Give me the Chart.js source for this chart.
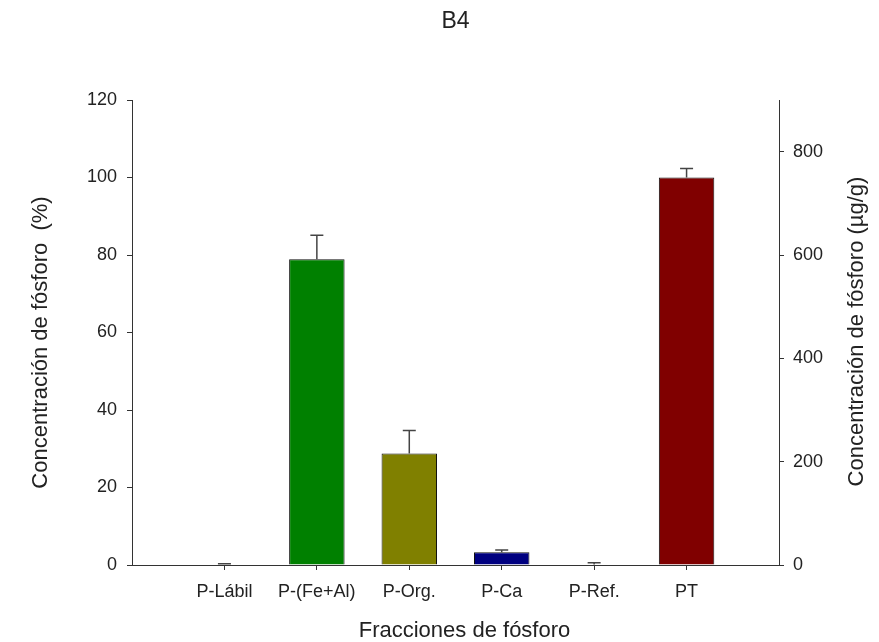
<!DOCTYPE html>
<html>
<head>
<meta charset="utf-8">
<script src="https://cdn.jsdelivr.net/npm/chart.js@4/dist/chart.umd.min.js"></script>
<style>
  html, body { margin: 0; padding: 0; background: #fff; }
</style>
</head>
<body>
<canvas id="b4Chart" width="879" height="642"></canvas>
<script>
// Fracciones de fósforo, muestra B4
const fracciones = ["P-Lábil", "P-(Fe+Al)", "P-Org.", "P-Ca", "P-Ref.", "PT"];
const porcentaje = [0.1, 78.9, 28.8, 3.3, 0.1, 100];
const errorSup = [0.2, 6.2, 5.9, 0.6, 0.5, 2.3];
const colores = ["#808080", "#008000", "#808000", "#000080", "#808080", "#800000"];

// ejes: % a la izquierda, µg/g a la derecha (100 % = 750 µg/g)
const ticksPct = [0, 20, 40, 60, 80, 100, 120];
const ticksUg = [0, 200, 400, 600, 800];
const ptUg = 750;

const fuente = "'Liberation Sans', Arial, sans-serif";
const tinta = "#222";
const lineaEje = "#333";

// barras de error (solo hacia arriba)
const barrasError = {
  id: "barrasError",
  afterDatasetsDraw(chart) {
    const ctx = chart.ctx;
    const sx = chart.scales.x;
    const sy = chart.scales.y;
    ctx.save();
    ctx.strokeStyle = "#444";
    ctx.lineWidth = 1.5;
    porcentaje.forEach((v, i) => {
      const px = sx.getPixelForValue(i + 1);
      const y0 = sy.getPixelForValue(v);
      const y1 = sy.getPixelForValue(v + errorSup[i]);
      ctx.beginPath();
      ctx.moveTo(px, y0);
      ctx.lineTo(px, y1);
      ctx.moveTo(px - 6.5, y1);
      ctx.lineTo(px + 6.5, y1);
      ctx.stroke();
    });
    ctx.restore();
  }
};

// títulos: el general y los de los ejes (los dos verticales leen de abajo hacia arriba)
const titulos = {
  id: "titulos",
  afterDraw(chart) {
    const ctx = chart.ctx;
    const a = chart.chartArea;
    const cx = (a.left + a.right) / 2;
    const cy = (a.top + a.bottom) / 2;
    ctx.save();
    ctx.fillStyle = tinta;
    ctx.textAlign = "center";
    ctx.textBaseline = "alphabetic";

    ctx.font = "23px " + fuente;
    ctx.fillText("B4", cx, 28);

    ctx.font = "22px " + fuente;
    ctx.fillText("Fracciones de fósforo", cx + 9, chart.height - 5);

    ctx.save();
    ctx.translate(a.left - 85, cy + 10);
    ctx.rotate(-Math.PI / 2);
    ctx.fillText("Concentración de fósforo  (%)", 0, 0);
    ctx.restore();

    ctx.save();
    ctx.translate(a.right + 84, cy - 1);
    ctx.rotate(-Math.PI / 2);
    ctx.fillText("Concentración de fósforo (µg/g)", 0, 0);
    ctx.restore();

    ctx.restore();
  }
};

new Chart(document.getElementById("b4Chart"), {
  type: "bar",
  data: {
    datasets: [{
      data: porcentaje.map((v, i) => ({ x: i + 1, y: v })),
      backgroundColor: colores,
      borderColor: "#111",
      borderWidth: 1,
      barPercentage: 0.6,
      categoryPercentage: 1,
      yAxisID: "y"
    }]
  },
  options: {
    responsive: false,
    animation: false,
    layout: { padding: { top: 100, left: 0, right: 0, bottom: 0 } },
    plugins: {
      legend: { display: false },
      tooltip: { enabled: false },
      title: { display: false }
    },
    scales: {
      x: {
        type: "linear",
        min: 0,
        max: 7,
        offset: false,
        afterBuildTicks: s => { s.ticks = fracciones.map((_, i) => ({ value: i + 1 })); },
        afterFit: s => { s.height = 77; },
        ticks: {
          callback: v => fracciones[v - 1],
          autoSkip: false,
          maxRotation: 0,
          padding: 11,
          color: tinta,
          font: { family: fuente, size: 18 }
        },
        grid: { offset: false, drawOnChartArea: false, tickLength: 5, tickColor: lineaEje },
        border: { color: lineaEje, width: 1 }
      },
      y: {
        position: "left",
        min: 0,
        max: 120,
        afterBuildTicks: s => { s.ticks = ticksPct.map(v => ({ value: v })); },
        afterFit: s => { s.width = 132; },
        ticks: { padding: 10, color: tinta, font: { family: fuente, size: 18 } },
        grid: { drawOnChartArea: false, tickLength: 5, tickColor: lineaEje },
        border: { color: lineaEje, width: 1 }
      },
      y2: {
        position: "right",
        min: 0,
        max: ptUg * 120 / 100,
        afterBuildTicks: s => { s.ticks = ticksUg.map(v => ({ value: v })); },
        afterFit: s => { s.width = 100; },
        ticks: { padding: 9, color: tinta, font: { family: fuente, size: 18 } },
        grid: { drawOnChartArea: false, tickLength: 5, tickColor: lineaEje },
        border: { color: lineaEje, width: 1 }
      }
    }
  },
  plugins: [barrasError, titulos]
});
</script>
</body>
</html>
